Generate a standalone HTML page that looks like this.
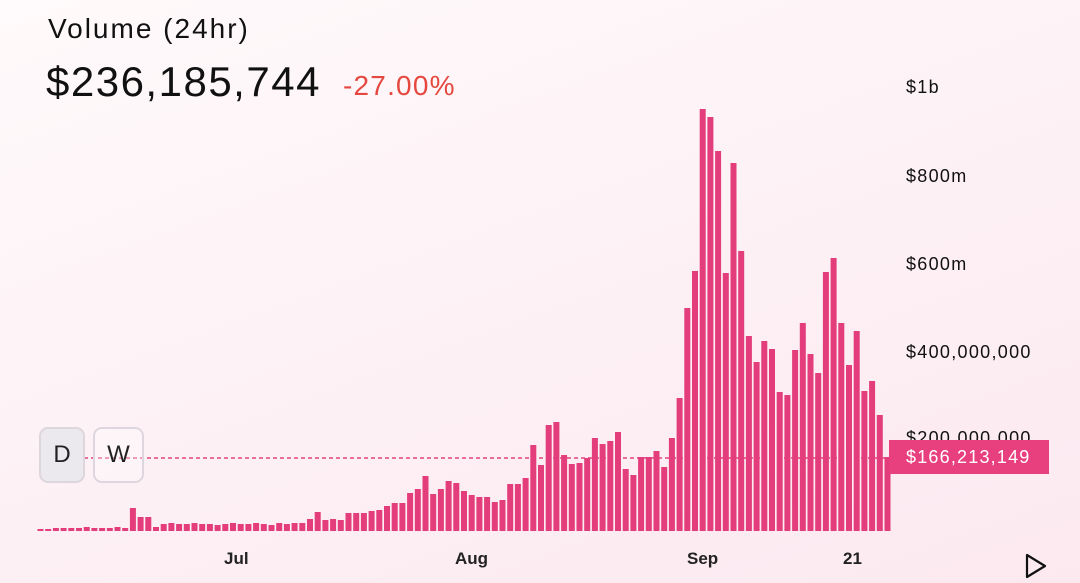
<!DOCTYPE html>
<html><head><meta charset="utf-8"><style>
body{margin:0;width:1080px;height:583px;overflow:hidden;background:linear-gradient(160deg,#fffafb 0%,#fdf1f5 50%,#fce9f0 100%);font-family:"Liberation Sans",sans-serif;position:relative}
.t{position:absolute;color:#111;white-space:nowrap}
.y{position:absolute;left:906px;font-size:18px;color:#111;letter-spacing:1.3px}
.x{position:absolute;top:549px;font-size:17px;font-weight:bold;color:#222}
.btn{position:absolute;top:427px;height:56px;border:2px solid #ddd6dc;border-radius:9px;font-size:24px;display:flex;align-items:center;justify-content:center;color:#222;box-sizing:border-box}
</style></head><body>
<div class="t" style="left:48px;top:13px;font-size:28px;letter-spacing:2px">Volume (24hr)</div>
<div class="t" style="left:46px;top:58px;font-size:42px;letter-spacing:1.5px">$236,185,744</div>
<div class="t" style="left:343px;top:70px;font-size:28px;letter-spacing:1.2px;color:#e5483f">-27.00%</div>
<div class="y" style="top:77px">$1b</div>
<div class="y" style="top:166px">$800m</div>
<div class="y" style="top:254px">$600m</div>
<div class="y" style="top:342px">$400,000,000</div>
<div class="y" style="top:428px">$200,000,000</div>
<svg style="position:absolute;left:0;top:0" width="1080" height="583" id="s"></svg>
<div style="position:absolute;left:889px;top:440px;width:160px;height:34px;background:#e8407f;color:#fff;font-size:18px;line-height:34px;padding-left:17px;box-sizing:border-box;letter-spacing:1.2px">$166,213,149</div>
<div class="btn" style="left:39px;width:46px;background:#ebe8ee">D</div>
<div class="btn" style="left:93px;width:51px;background:rgba(255,255,255,0.3)">W</div>
<div class="x" style="left:224px">Jul</div>
<div class="x" style="left:455px">Aug</div>
<div class="x" style="left:687px">Sep</div>
<div class="x" style="left:843px">21</div>
<svg style="position:absolute;left:1024px;top:553px" width="24" height="26"><polygon points="3,2 21,13 3,24" fill="none" stroke="#111" stroke-width="2.2" stroke-linejoin="round"/></svg>
<script>
var t=[529,529,528,528,528,528,527,528,528,528,527,528,508,517,517,527,524,523,524,524,523,524,524,525,524,523,524,524,523,524,525,523,524,
523,523,519,512,520,519,520,513,513,513,511,510,506,503,503,493,489,476,494,489,481,483,491,495,497,497,502,500,
484,484,478,445,465,425,422,455,464,463,458,438,444,441,432,469,475,457,457,451,467,438,398,308,271,109,117,151,273,163,251,336,362,341,349,392,395,350,323,354,373,272,258,323,365,331,391,381,415,457];
var n=t.length,h='',st=(885-38)/(n-1);
h+='<line x1="84" y1="458" x2="885" y2="458" stroke="#e0457f" stroke-width="1.5" stroke-dasharray="4,3"/>';
for(var i=0;i<n;i++){var x=38+i*st;h+='<rect x="'+(x-0.5).toFixed(1)+'" y="'+t[i]+'" width="6" height="'+(531-t[i])+'" fill="#e33d7b"/>';}
document.getElementById('s').innerHTML=h;
</script>
</body></html>
